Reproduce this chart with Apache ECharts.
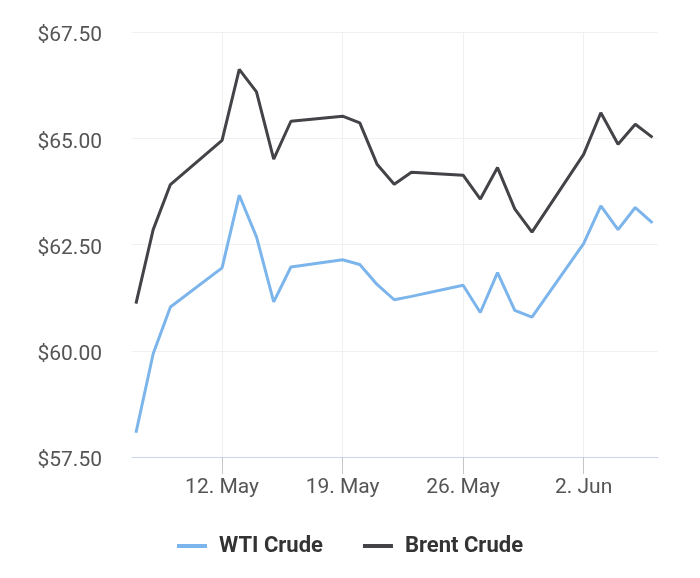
<!DOCTYPE html>
<html>
<head>
<meta charset="utf-8">
<script src="https://cdn.jsdelivr.net/npm/echarts@6/dist/echarts.min.js"></script>
<style>
  html, body { margin: 0; padding: 0; background: #fff; }
  #chart { width: 700px; height: 578px; }
</style>
</head>
<body>
<div id="chart"></div>
<script>
const dates = [
  '2025-05-07','2025-05-08','2025-05-09','2025-05-12','2025-05-13','2025-05-14','2025-05-15','2025-05-16',
  '2025-05-19','2025-05-20','2025-05-21','2025-05-22','2025-05-23',
  '2025-05-26','2025-05-27','2025-05-28','2025-05-29','2025-05-30',
  '2025-06-02','2025-06-03','2025-06-04','2025-06-05','2025-06-06'
];
const wti = [58.07, 59.93, 61.03, 61.95, 63.66, 62.68, 61.15, 61.97,
  62.14, 62.03, 61.56, 61.20, 61.28,
  61.54, 60.90, 61.84, 60.95, 60.79,
  62.52, 63.41, 62.85, 63.37, 63.01];
const brent = [61.11, 62.85, 63.91, 64.95, 66.62, 66.09, 64.51, 65.40,
  65.52, 65.36, 64.39, 63.92, 64.20,
  64.13, 63.57, 64.31, 63.34, 62.79,
  64.62, 65.60, 64.86, 65.33, 65.02];
const tickDates = ['2025-05-12', '2025-05-19', '2025-05-26', '2025-06-02'];
const yTicks = [57.5, 60, 62.5, 65, 67.5];
const monthNames = ['Jan','Feb','Mar','Apr','May','Jun','Jul','Aug','Sep','Oct','Nov','Dec'];

function ts(s) {
  const p = s.split('-').map(Number);
  return Date.UTC(p[0], p[1] - 1, p[2]);
}
const DAY = 86400000;
const xMin = ts(dates[0]) - 0.23 * DAY;
const xMax = ts(dates[dates.length - 1]) + 0.32 * DAY;
const tickVals = tickDates.map(ts);

const chart = echarts.init(document.getElementById('chart'), null, { renderer: 'canvas' });
chart.setOption({
  animation: false,
  backgroundColor: '#ffffff',
  textStyle: { fontFamily: 'Roboto' },
  grid: { left: 132, right: 42, top: 32, bottom: 121, containLabel: false },
  xAxis: {
    type: 'value',
    min: xMin,
    max: xMax,
    axisLine: { show: true, lineStyle: { color: '#ccd6eb', width: 1 } },
    axisTick: { show: true, length: 17, lineStyle: { color: '#c6c6c6', width: 1 }, customValues: tickVals },
    axisLabel: {
      customValues: tickVals,
      color: '#555555',
      fontSize: 21,
      fontFamily: 'Roboto',
      margin: 20,
      formatter: function (v) {
        const d = new Date(v);
        return d.getUTCDate() + '. ' + monthNames[d.getUTCMonth()];
      }
    },
    splitLine: { show: true, lineStyle: { color: '#f0f0f0', width: 1 } }
  },
  yAxis: {
    type: 'value',
    min: yTicks[0],
    max: yTicks[yTicks.length - 1],
    interval: 2.5,
    axisLine: { show: false },
    axisTick: { show: false },
    axisLabel: {
      color: '#555555',
      fontSize: 21,
      fontFamily: 'Roboto',
      margin: 30,
      formatter: function (v) { return '{a|$' + v.toFixed(2) + '}'; },
      rich: { a: { fontSize: 21, color: '#555555', fontFamily: 'Roboto', padding: [8, 0, 0, 0] } }
    },
    splitLine: { show: true, lineStyle: { color: '#f0f0f0', width: 1 } }
  },
  legend: {
    bottom: 16,
    left: 'center',
    icon: 'rect',
    itemWidth: 30,
    itemHeight: 4,
    itemGap: 40,
    textStyle: { fontSize: 22, fontWeight: 'bold', color: '#333333', fontFamily: 'Roboto', padding: [0, 0, 0, 7] },
    data: ['WTI Crude', 'Brent Crude']
  },
  series: [
    {
      name: 'WTI Crude',
      type: 'line',
      data: dates.map((d, i) => [ts(d), wti[i]]),
      showSymbol: false,
      symbol: 'none',
      lineStyle: { color: '#7cb5ec', width: 3 },
      itemStyle: { color: '#7cb5ec' }
    },
    {
      name: 'Brent Crude',
      type: 'line',
      data: dates.map((d, i) => [ts(d), brent[i]]),
      showSymbol: false,
      symbol: 'none',
      lineStyle: { color: '#434348', width: 3 },
      itemStyle: { color: '#434348' }
    }
  ]
});
</script>
</body>
</html>
